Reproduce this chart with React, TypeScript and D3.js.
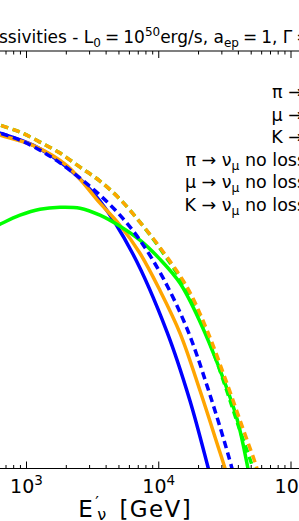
import React, { useEffect, useRef } from "react";
import * as d3 from "d3";

// [E'_nu (GeV), emissivity (arbitrary units)]
type Pt = [number, number];

const xDomain: [number, number] = [200, 2.2e5];
const yDomain: [number, number] = [1e-6, 1];
const majorExponents = [3, 4, 5];

const piLoss: Pt[] = [
  [530, 0.0730], [631, 0.0661], [1120, 0.0444], [2020, 0.0214], [3595, 0.00695],
  [6390, 0.0012], [11500, 9.36e-5], [17200, 9.5e-6], [23500, 1.07e-6], [27100, 3.7e-7],
];
const muLoss: Pt[] = [
  [530, 0.0706], [631, 0.0618], [1120, 0.0440], [2020, 0.0225], [3595, 0.0065],
  [5090, 0.00313], [7210, 0.00124], [10200, 3.64e-4], [14500, 8.75e-5], [20500, 1.32e-5],
  [27600, 2.29e-6], [31700, 1e-6], [36400, 3.5e-7],
];
const kLoss: Pt[] = [
  [530, 0.00275], [631, 0.00324], [893, 0.00437], [1265, 0.00533], [1792, 0.00569],
  [2540, 0.00551], [3595, 0.00437], [5090, 0.00303], [7210, 0.00191], [10200, 0.00102],
  [14500, 4.59e-4], [20500, 1.29e-4], [29000, 2.63e-5], [39100, 5.15e-6], [47300, 1e-6],
  [52600, 3.5e-7],
];
const piNoLoss: Pt[] = [
  [530, 0.073], [631, 0.0661], [893, 0.0524], [1265, 0.0376], [1792, 0.0247],
  [2540, 0.0149], [3595, 0.00848], [5090, 0.00437], [7210, 0.00191], [10900, 5.26e-4],
  [16400, 1.01e-4], [23200, 1.54e-5], [35800, 1e-6], [40600, 3.5e-7],
];
const muNoLoss: Pt[] = [
  [530, 0.0984], [631, 0.0861], [893, 0.0684], [1265, 0.0491], [1792, 0.0341],
  [2540, 0.0214], [3595, 0.0135], [5090, 0.00743], [7210, 0.00347], [10200, 0.00151],
  [16400, 4.02e-4], [23200, 9.68e-5], [32800, 1.67e-5], [43300, 3.75e-6], [55300, 1e-6],
  [63500, 3.5e-7],
];
const kNoLoss: Pt[] = [
  [530, 0.0984], [631, 0.0861], [893, 0.0684], [1265, 0.0491], [1792, 0.0341],
  [2540, 0.0214], [3595, 0.0135], [5090, 0.00743], [7210, 0.00347], [10200, 0.00146],
  [16400, 3.64e-4], [23200, 8.2e-5], [31700, 1.56e-5], [41100, 3.52e-6], [51600, 1e-6],
  [59300, 3.5e-7],
];

const parents = ["π", "μ", "K"];
const colors = ["#0000ff", "#ffa500", "#00ff00"];

interface Series {
  parent: number;
  noLoss: boolean;
  data: Pt[];
}

const series: Series[] = [
  { parent: 0, noLoss: false, data: piLoss },
  { parent: 1, noLoss: false, data: muLoss },
  { parent: 2, noLoss: false, data: kLoss },
  { parent: 0, noLoss: true, data: piNoLoss },
  { parent: 1, noLoss: true, data: muNoLoss },
  { parent: 2, noLoss: true, data: kNoLoss },
];
// the K no-loss curve sits under the mu no-loss one
const drawOrder = [0, 1, 2, 3, 5, 4];

const W = 299,
  H = 521;
const TOP = 51,
  BOTTOM = 468.5;
const PX_1E3 = 26.5,
  PX_DECADE = 132.25;
const FONT = "DejaVu Sans";
const LW = 3.5;
const DASH = "7.5,4.5";

const App: React.FC = () => {
  const ref = useRef<SVGSVGElement | null>(null);

  useEffect(() => {
    const svg = d3.select(ref.current);
    svg.selectAll("*").remove();

    const x = d3
      .scaleLog()
      .domain(xDomain)
      .range([
        PX_1E3 - PX_DECADE * (3 - Math.log10(xDomain[0])),
        PX_1E3 + PX_DECADE * (Math.log10(xDomain[1]) - 3),
      ]);
    const y = d3.scaleLog().domain(yDomain).range([BOTTOM, TOP]);
    const [x0, x1] = x.range();

    svg
      .append("defs")
      .append("clipPath")
      .attr("id", "plot-clip")
      .append("rect")
      .attr("x", x0)
      .attr("y", TOP)
      .attr("width", x1 - x0)
      .attr("height", BOTTOM - TOP);

    // curves
    const line = d3
      .line<Pt>()
      .x((d) => x(d[0]))
      .y((d) => y(d[1]))
      .curve(d3.curveCatmullRom.alpha(0.5));

    const g = svg.append("g").attr("clip-path", "url(#plot-clip)");
    drawOrder.forEach((i) => {
      const s = series[i];
      g.append("path")
        .attr("d", line(s.data) || "")
        .attr("fill", "none")
        .attr("stroke", colors[s.parent])
        .attr("stroke-width", LW)
        .attr("stroke-dasharray", s.noLoss ? DASH : null);
    });

    // spines
    svg
      .append("g")
      .selectAll("line")
      .data([TOP, BOTTOM])
      .enter()
      .append("line")
      .attr("x1", x0)
      .attr("x2", x1)
      .attr("y1", (d) => d)
      .attr("y2", (d) => d)
      .attr("stroke", "#000")
      .attr("stroke-width", 1.2);

    // ticks, pointing inwards on top and bottom
    const ticks = x.ticks();
    const isMajor = (v: number) => Math.abs(Math.log10(v) - Math.round(Math.log10(v))) < 1e-6;
    [
      { y0: BOTTOM, dir: -1 },
      { y0: TOP, dir: 1 },
    ].forEach(({ y0, dir }) => {
      svg
        .append("g")
        .selectAll("line")
        .data(ticks)
        .enter()
        .append("line")
        .attr("x1", (d) => x(d))
        .attr("x2", (d) => x(d))
        .attr("y1", y0)
        .attr("y2", (d) => y0 + dir * (isMajor(d) ? 7 : 3.5))
        .attr("stroke", "#000")
        .attr("stroke-width", 1);
    });

    // tick labels
    const lab = svg
      .append("g")
      .selectAll("text")
      .data(majorExponents)
      .enter()
      .append("text")
      .attr("x", (d) => x(Math.pow(10, d)))
      .attr("y", 493)
      .attr("text-anchor", "middle")
      .attr("font-family", FONT)
      .attr("font-size", 19);
    lab.append("tspan").text("10");
    lab
      .append("tspan")
      .attr("dy", -8)
      .attr("font-size", 13.5)
      .text((d) => String(d));

    // x label
    const XS = 23;
    const xl = svg
      .append("text")
      .attr("x", (x0 + x1) / 2)
      .attr("y", 517)
      .attr("text-anchor", "middle")
      .attr("font-family", FONT)
      .attr("font-size", XS)
      .attr("letter-spacing", 1.4);
    xl.append("tspan").text("E");
    xl.append("tspan").attr("dx", 1).attr("dy", -9).attr("font-size", XS * 0.7).text("′");
    xl.append("tspan").attr("dx", -3).attr("dy", 12).attr("font-size", XS * 0.7).text("ν");
    xl.append("tspan").attr("dx", 3).attr("dy", -3).text(" [GeV]");

    // title (cut off on both sides in the reference)
    const titleY = 43;
    const TS = 17,
      TSS = 12;
    svg
      .append("text")
      .attr("x", -1)
      .attr("y", titleY)
      .attr("text-anchor", "end")
      .attr("font-family", FONT)
      .attr("font-size", TS)
      .text("Neutrino emi");
    const t = svg
      .append("text")
      .attr("x", -1)
      .attr("y", titleY)
      .attr("font-family", FONT)
      .attr("font-size", TS);
    t.append("tspan").text("ssivities - L");
    t.append("tspan").attr("dy", 4).attr("font-size", TSS).text("0");
    t.append("tspan").attr("dx", 4).attr("dy", -4).text("=");
    t.append("tspan").attr("dx", 4).text("10");
    t.append("tspan").attr("dy", -7).attr("font-size", TSS).text("50");
    t.append("tspan").attr("dy", 7).text("erg/s, a");
    t.append("tspan").attr("dy", 4).attr("font-size", TSS).text("ep");
    t.append("tspan").attr("dx", 4).attr("dy", -4).text("=");
    t.append("tspan").attr("dx", 4).text("1, Γ");
    t.append("tspan").attr("dx", 4).text("=");

    // legend: text right-aligned, handles to the right (outside the crop)
    const LS = 17.5;
    const legR = 326;
    const legY0 = 98;
    const legStep = 22.5;
    series.forEach((s, i) => {
      const yy = legY0 + i * legStep;
      const tx = svg
        .append("text")
        .attr("x", legR)
        .attr("y", yy)
        .attr("text-anchor", "end")
        .attr("font-family", FONT)
        .attr("font-size", LS);
      tx.append("tspan").text(`${parents[s.parent]} → ν`);
      tx.append("tspan").attr("dy", 4).attr("font-size", LS * 0.7).text("μ");
      if (s.noLoss) tx.append("tspan").attr("dy", -4).text(" no losses");
      svg
        .append("line")
        .attr("x1", legR + 12)
        .attr("x2", legR + 44)
        .attr("y1", yy - 5)
        .attr("y2", yy - 5)
        .attr("stroke", colors[s.parent])
        .attr("stroke-width", LW)
        .attr("stroke-dasharray", s.noLoss ? DASH : null);
    });
  }, []);

  return (
    <svg
      ref={ref}
      width={W}
      height={H}
      style={{ position: "absolute", left: 0, top: 0, background: "#fff" }}
    ></svg>
  );
};

export default App;
